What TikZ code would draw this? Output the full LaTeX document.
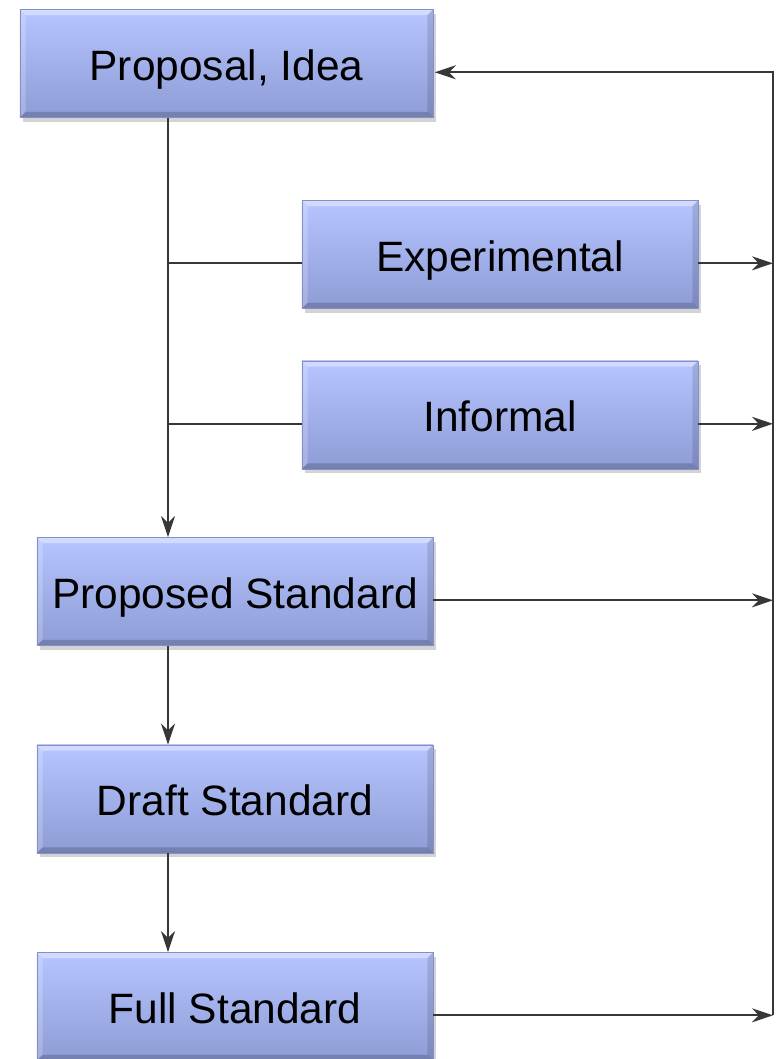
\documentclass[tikz,border=0pt]{standalone}
\usepackage{fontspec}
\setmainfont{Liberation Sans}
\usetikzlibrary{arrows.meta,shadows}
\definecolor{boxoben}{RGB}{182,197,255}
\definecolor{boxunten}{RGB}{142,156,214}
\definecolor{boxrand}{RGB}{130,144,198}
\definecolor{strich}{RGB}{55,55,55}
\tikzset{
    stufe/.style={rectangle, draw=boxrand, line width=0.5pt, top color=boxoben, bottom color=boxunten,
        drop shadow={opacity=0.35, shadow xshift=2pt, shadow yshift=-3pt},
        minimum width=9.9cm, minimum height=2.7cm, inner sep=0pt,
        text height=24pt, text depth=0pt,
        font=\fontsize{30.2}{36}\selectfont,
        path picture={
            %Kanten
            \fill[white, opacity=0.4] (path picture bounding box.north west) -- (path picture bounding box.north east)
                -- ([xshift=-4pt,yshift=-4pt]path picture bounding box.north east)
                -- ([xshift=4pt,yshift=-4pt]path picture bounding box.north west) -- cycle;
            \fill[white, opacity=0.2] (path picture bounding box.north west) -- (path picture bounding box.south west)
                -- ([xshift=4pt,yshift=4pt]path picture bounding box.south west)
                -- ([xshift=4pt,yshift=-4pt]path picture bounding box.north west) -- cycle;
            \fill[black, opacity=0.12] (path picture bounding box.north east) -- (path picture bounding box.south east)
                -- ([xshift=-4pt,yshift=4pt]path picture bounding box.south east)
                -- ([xshift=-4pt,yshift=-4pt]path picture bounding box.north east) -- cycle;
            \fill[black, opacity=0.18] (path picture bounding box.south west) -- (path picture bounding box.south east)
                -- ([xshift=-4pt,yshift=4pt]path picture bounding box.south east)
                -- ([xshift=4pt,yshift=4pt]path picture bounding box.south west) -- cycle;
        }},
    verb/.style={strich, line width=1.5pt},
    pfeil/.style={verb, -{Stealth[length=15pt,width=10pt]}},
}
\begin{document}
\begin{tikzpicture}[x=0.025cm, y=-0.025cm]
    \useasboundingbox (0,0) rectangle (778,1059);

    %Stufen
    \node[stufe, minimum width=10.325cm] (idee) at (226.5,63.5) {Proposal, Idea};
    \node[stufe] (exp) at (500,254.5) {Experimental};
    \node[stufe] (inf) at (500,415) {Informal};
    \node[stufe] (prop) at (235,591.5) {Proposed Standard};
    \node[stufe] (draft) at (235,799) {Draft Standard};
    \node[stufe] (full) at (235,1006.5) {Full Standard};

    %Hilfspunkte
    \coordinate (stamm) at (168,0);
    \coordinate (rechts) at (773,0);

    %Hauptweg links
    \draw[pfeil] (idee.south -| stamm) -- (prop.north -| stamm);
    \draw[pfeil] (prop.south -| stamm) -- (draft.north -| stamm);
    \draw[pfeil] (draft.south -| stamm) -- (full.north -| stamm);
    \foreach \n in {exp, inf} {
        \draw[verb] ([yshift=-0.22cm]\n.west) -- ([yshift=-0.22cm]\n.west -| stamm);
    }

    %Rueckweg rechts
    \foreach \n in {exp, inf, prop, full} {
        \draw[pfeil] ([yshift=-0.22cm]\n.east) -- ([yshift=-0.22cm]\n.east -| rechts);
    }
    \draw[pfeil] ([yshift=-0.22cm]full.east -| rechts) -- ([yshift=-0.22cm]idee.east -| rechts)
        -- ([yshift=-0.22cm, xshift=1pt]idee.east);
\end{tikzpicture}
\end{document}
